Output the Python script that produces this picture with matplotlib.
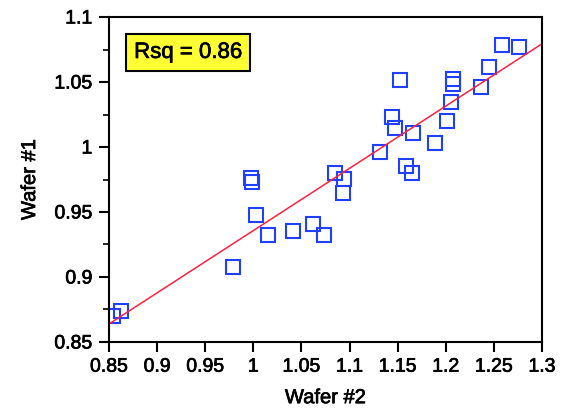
import matplotlib
matplotlib.use("Agg")
import matplotlib.pyplot as plt
import matplotlib.patheffects as pe
import numpy as np
from matplotlib.ticker import MultipleLocator

# wafer #2 (x) vs wafer #1 (y)
wafer2 = [0.8545, 0.8622, 0.9786, 0.9973, 0.9983, 1.0028, 1.0156, 1.0416,
          1.0623, 1.0734, 1.0849, 1.0942, 1.0929, 1.1317, 1.1438, 1.1472,
          1.1524, 1.1587, 1.1646, 1.1656, 1.1888, 1.2010, 1.2050, 1.2070,
          1.2070, 1.2370, 1.2450, 1.2580, 1.2765]
wafer1 = [0.8700, 0.8738, 0.9075, 0.9759, 0.9733, 0.9477, 0.9323, 0.9354,
          0.9408, 0.9323, 0.9798, 0.9754, 0.9644, 0.9964, 1.0228, 1.0144,
          1.0515, 0.9854, 0.9802, 1.0105, 1.0033, 1.0200, 1.0344, 1.0520,
          1.0485, 1.0464, 1.0618, 1.0785, 1.0767]
rsq_label = "Rsq = 0.86"

plt.rcParams['font.family'] = ['Liberation Sans', 'DejaVu Sans']
# slightly heavier text, like the reference
heavy = [pe.withStroke(linewidth=0.5, foreground='black')]

fig = plt.figure(figsize=(5.66, 4.16), dpi=100)
ax = fig.add_axes([0.1926, 0.1779, 0.765, 0.7812])

x = np.array(wafer2)
y = np.array(wafer1)
ax.plot(x, y, linestyle='none', marker='s', markersize=9.5,
        markerfacecolor='none', markeredgecolor='#2040ff', markeredgewidth=1.5)

# least squares fit line
k, b = np.polyfit(x, y, 1)
xs = np.array([0.85, 1.3])
ax.plot(xs, k * xs + b, color='#ff2040', linewidth=1.1)

ax.set_xlim(0.85, 1.3)
ax.set_ylim(0.85, 1.1)
ax.xaxis.set_major_locator(MultipleLocator(0.05))
ax.yaxis.set_major_locator(MultipleLocator(0.05))
ax.yaxis.set_minor_locator(MultipleLocator(0.025))
fmt = plt.FuncFormatter(lambda v, p: ('%.2f' % v).rstrip('0').rstrip('.'))
ax.xaxis.set_major_formatter(fmt)
ax.yaxis.set_major_formatter(fmt)
ax.tick_params(axis='both', which='major', direction='out', length=7, width=1.5,
               labelsize=14, pad=5)
ax.tick_params(axis='y', which='minor', direction='out', length=4, width=1.2)
for s in ax.spines.values():
    s.set_linewidth(1.5)

ax.set_xlabel("Wafer #2", fontsize=14.5, labelpad=9)
ax.set_ylabel("Wafer #1", fontsize=14.5, labelpad=11)

ax.text(0.058, 0.891, rsq_label, transform=ax.transAxes, fontsize=16,
        va='center', ha='left', path_effects=heavy,
        bbox=dict(boxstyle='square,pad=0.35', facecolor='#ffff33', edgecolor='black', linewidth=1.5))

for t in ax.get_xticklabels() + ax.get_yticklabels():
    t.set_path_effects(heavy)
ax.xaxis.label.set_path_effects(heavy)
ax.yaxis.label.set_path_effects(heavy)

fig.savefig("out.png", dpi=100)
